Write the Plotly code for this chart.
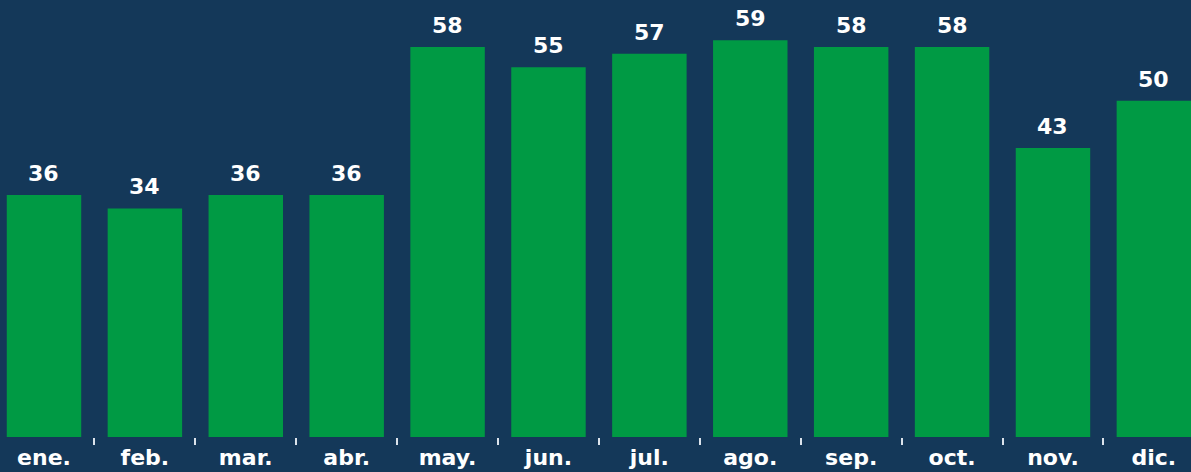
import plotly.graph_objects as go

months = ["ene.", "feb.", "mar.", "abr.", "may.", "jun.", "jul.", "ago.", "sep.", "oct.", "nov.", "dic."]
values = [36, 34, 36, 36, 58, 55, 57, 59, 58, 58, 43, 50]

BG = "#143859"
GREEN = "#009a44"
FONT = dict(family="DejaVu Sans", size=22, color="white", weight="bold")

fig = go.Figure(
    go.Bar(
        x=months,
        y=values,
        width=0.738,
        marker=dict(color=GREEN, line=dict(width=0)),
        hoverinfo="skip",
    )
)

for m, v in zip(months, values):
    fig.add_annotation(
        x=m, y=v, text=str(v), showarrow=False,
        xanchor="center", yanchor="bottom", yshift=7,
        font=FONT,
    )

fig.update_layout(
    width=1191,
    height=472,
    margin=dict(l=0, r=0, t=0, b=35),
    paper_bgcolor=BG,
    plot_bgcolor=BG,
    showlegend=False,
)
fig.update_xaxes(
    type="category",
    range=[-0.436, 11.368],
    showgrid=False,
    zeroline=False,
    showline=False,
    ticks="outside",
    tickson="boundaries",
    ticklen=7,
    tickwidth=2,
    tickcolor="#dbe3ec",
    tickfont=FONT,
    ticklabelstandoff=5,
    fixedrange=True,
)
fig.update_yaxes(
    range=[0, 65.0],
    visible=False,
    showgrid=False,
    zeroline=False,
    fixedrange=True,
)

fig.write_html(
    "out.html",
    config={"displayModeBar": False},
    post_script="document.body.style.margin='0';document.body.style.background='#143859';document.body.style.overflow='hidden';",
)
